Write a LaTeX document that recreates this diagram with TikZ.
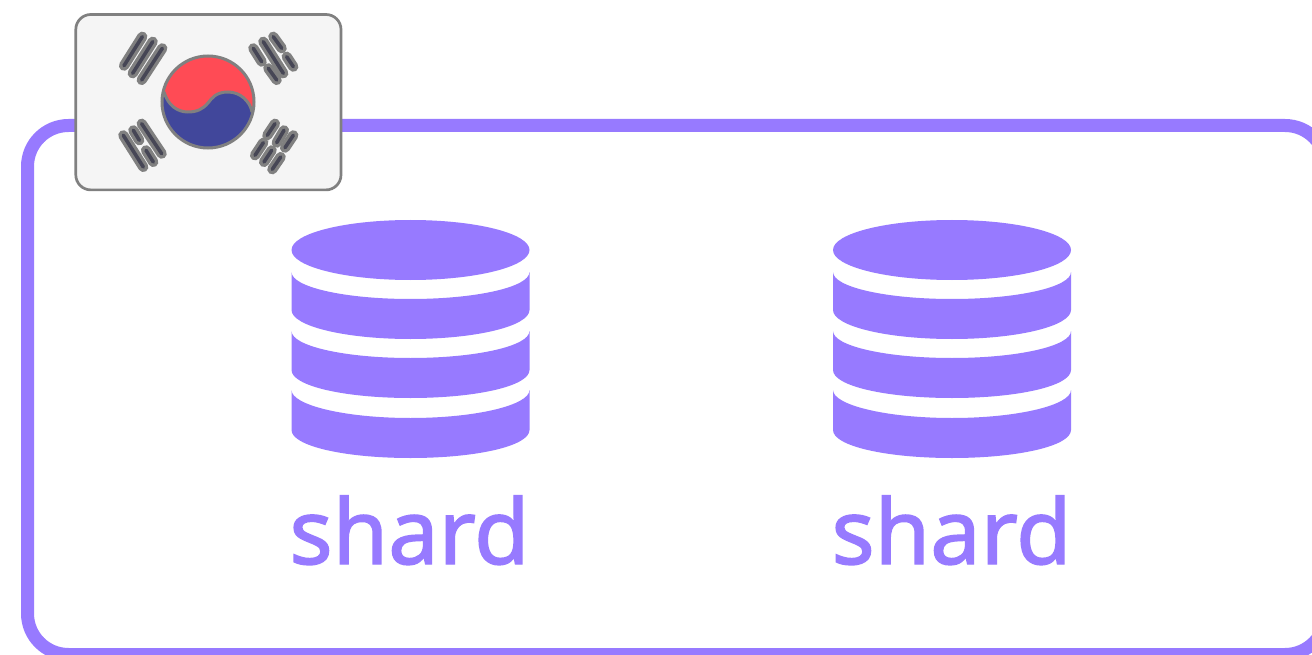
\documentclass[tikz,border=0pt]{standalone}
\usepackage{fontspec}
\setmainfont{Noto Sans}
\newfontfamily\shardfont[FakeBold=1.6]{Noto Sans}
\definecolor{purp}{HTML}{977AFF}
\definecolor{flaggray}{HTML}{808080}
\definecolor{flagbg}{HTML}{F5F5F5}
\definecolor{flagred}{HTML}{FF4B55}
\definecolor{flagblue}{HTML}{41479B}
\definecolor{flagdark}{HTML}{464655}
\tikzset{
  frameline/.style={draw=purp,line width=13pt,rounded corners=41pt},
  flagbox/.style={draw=flaggray,fill=flagbg,line width=2.7pt,rounded corners=15pt},
  shardlabel/.style={text=purp,font=\shardfont\fontsize{90}{92}\selectfont,inner sep=0pt,anchor=base},
}
\newcommand{\trbar}[2]{%
  \draw[flaggray,line width=10.2pt,line cap=round] (#1) -- (#2);
}
\newcommand{\trcore}[2]{%
  \draw[flagdark,line width=3.6pt,line cap=round] (#1) -- (#2);
}
\newcommand{\dbicon}[1]{%
  \begin{scope}[shift={(#1,0)}]
    \fill[purp] (0,250) ellipse [x radius=119,y radius=30];
    \foreach \t/\s/\c/\b in {272/310/299/339,331/370/358/398,390/430/418/458}{
      \fill[purp] (-119,\t) .. controls (-119,\t+15) and (-66,\c) .. (0,\c)
        .. controls (66,\c) and (119,\t+15) .. (119,\t) -- (119,\s)
        .. controls (119,\s+16) and (66,\b) .. (0,\b)
        .. controls (-66,\b) and (-119,\s+16) .. (-119,\s) -- cycle;
    }
  \end{scope}
}
\begin{document}
\begin{tikzpicture}[x=1pt,y=-1pt]
\useasboundingbox (0,0) rectangle (1312,655);
\clip (0,0) rectangle (1312,655);
\fill[white] (0,0) rectangle (1312,655);
\draw[frameline] (27.5,125.5) rectangle (1326,654.5);
\node[flagbox,minimum width=265.2pt,minimum height=175.4pt,inner sep=0pt] (flag) at (208.4,102.2) {};
% taegeuk
\fill[flagblue] (208,102) circle (46);
\fill[flagred] (164,92) arc[start angle=193,end angle=372.5,radius=45.2]
  .. controls (250,101) and (240,92) .. (228,92)
  .. controls (216,92) and (212,98) .. (208,103)
  .. controls (203,109) and (197,112) .. (188,112)
  .. controls (177,112) and (168,105) .. (164,92) -- cycle;
\draw[flaggray,line width=3pt] (164,92)
  .. controls (168,105) and (177,112) .. (188,112)
  .. controls (197,112) and (203,109) .. (208,103)
  .. controls (212,98) and (216,92) .. (228,92)
  .. controls (240,92) and (250,101) .. (252,112);
\draw[flaggray,line width=3pt] (208,102) circle (46);
% trigrams: gray casings first, dark cores on top
\foreach \a/\b in {
  {142.3,36.7}/{124,65.7},{152.7,41.7}/{132.7,73.3},{162.3,48.3}/{141.7,80},
  {273.3,36.7}/{281.7,48.3},{286.7,56.7}/{293.3,66.7},{263.3,41.7}/{283.3,73.3},{253.3,48.3}/{261.7,61.7},{268.3,68.3}/{276.7,80},
  {141.7,123.7}/{161.7,153.7},{133.3,130.3}/{139.3,140.3},{146,150.3}/{153.3,162},{123.3,135.3}/{143.3,167},
  {275,123.7}/{267.3,135.3},{284,130.3}/{276.7,142.7},{293.3,135.3}/{285,147.7},{263.3,142.7}/{255,155.3},{271.7,150.3}/{264,162},{280.7,157}/{272.3,169.3}}{
  \trbar{\a}{\b}
}
\foreach \a/\b in {
  {142.3,36.7}/{124,65.7},{152.7,41.7}/{132.7,73.3},{162.3,48.3}/{141.7,80},
  {273.3,36.7}/{281.7,48.3},{286.7,56.7}/{293.3,66.7},{263.3,41.7}/{283.3,73.3},{253.3,48.3}/{261.7,61.7},{268.3,68.3}/{276.7,80},
  {141.7,123.7}/{161.7,153.7},{133.3,130.3}/{139.3,140.3},{146,150.3}/{153.3,162},{123.3,135.3}/{143.3,167},
  {275,123.7}/{267.3,135.3},{284,130.3}/{276.7,142.7},{293.3,135.3}/{285,147.7},{263.3,142.7}/{255,155.3},{271.7,150.3}/{264,162},{280.7,157}/{272.3,169.3}}{
  \trcore{\a}{\b}
}
\dbicon{410.5}
\dbicon{952}
\node[shardlabel] (s1) at (409.5,564) {shard};
\node[shardlabel] (s2) at (951.5,564) {shard};
\end{tikzpicture}
\end{document}
